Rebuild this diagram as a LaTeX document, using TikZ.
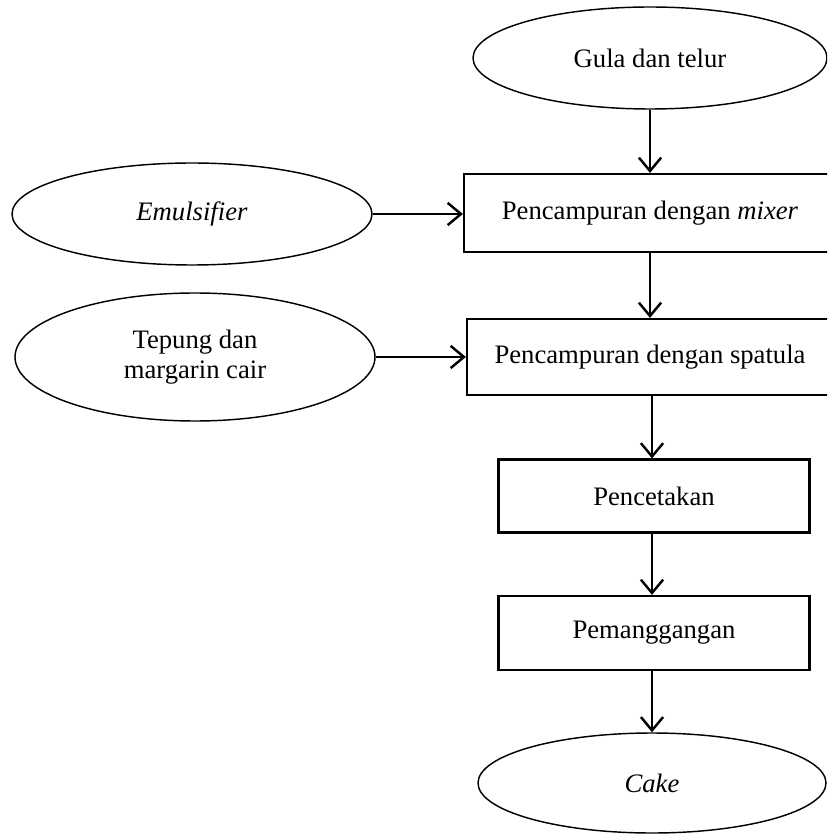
\documentclass[tikz,border=0pt]{standalone}
\usepackage{fontspec}
\setmainfont{Liberation Serif}
\usetikzlibrary{shapes.geometric,arrows.meta}
\begin{document}
\begin{tikzpicture}[x=0.45pt,y=-0.45pt,
  every node/.style={font=\fontsize{12}{13.5}\selectfont, inner sep=0pt},
  oval/.style={ellipse, draw, line width=0.65pt},
  stepbox/.style={rectangle, draw, line width=1pt},
  flow/.style={line width=1.1pt, -{Straight Barb[length=6pt,width=10pt,line width=1.1pt]}}]
\useasboundingbox (0,0) rectangle (827,835);
\clip (0,0) rectangle (827,835);
\node[oval, minimum width=354*0.45pt, minimum height=102*0.45pt] (gula) at (650,58) {Gula dan telur};
\node[oval, minimum width=360*0.45pt, minimum height=102*0.45pt] (emul) at (192,214) {\textit{Emulsifier}};
\node[oval, minimum width=360*0.45pt, minimum height=128*0.45pt, align=center] (tep) at (195,357) {Tepung dan\\margarin cair};
\node[stepbox, minimum width=372*0.45pt, minimum height=78*0.45pt] (b1) at (650,213) {Pencampuran dengan \textit{mixer}};
\node[stepbox, minimum width=366*0.45pt, minimum height=76*0.45pt] (b2) at (650,357) {Pencampuran dengan spatula};
\node[stepbox, minimum width=311*0.45pt, minimum height=73*0.45pt] (b3) at (654,496) {Pencetakan};
\node[stepbox, minimum width=311*0.45pt, minimum height=74*0.45pt] (b4) at (654,633) {Pemanggangan};
\node[oval, minimum width=348*0.45pt, minimum height=100*0.45pt] (cake) at (652,783) {\textit{Cake}};
\draw[flow] (gula.south) -- (gula.south |- b1.north);
\draw[flow] (emul.east) -- (emul.east -| b1.west);
\draw[flow] (tep.east) -- (tep.east -| b2.west);
\draw[flow] (b1.south) -- (b2.north);
\draw[flow] ([xshift=-2*0.45pt]b3.north |- b2.south) -- ([xshift=-2*0.45pt]b3.north);
\draw[flow] ([xshift=-2*0.45pt]b3.south) -- ([xshift=-2*0.45pt]b4.north);
\draw[flow] ([xshift=-2*0.45pt]b4.south) -- ([xshift=-2*0.45pt]b4.south |- cake.north);
\end{tikzpicture}
\end{document}
